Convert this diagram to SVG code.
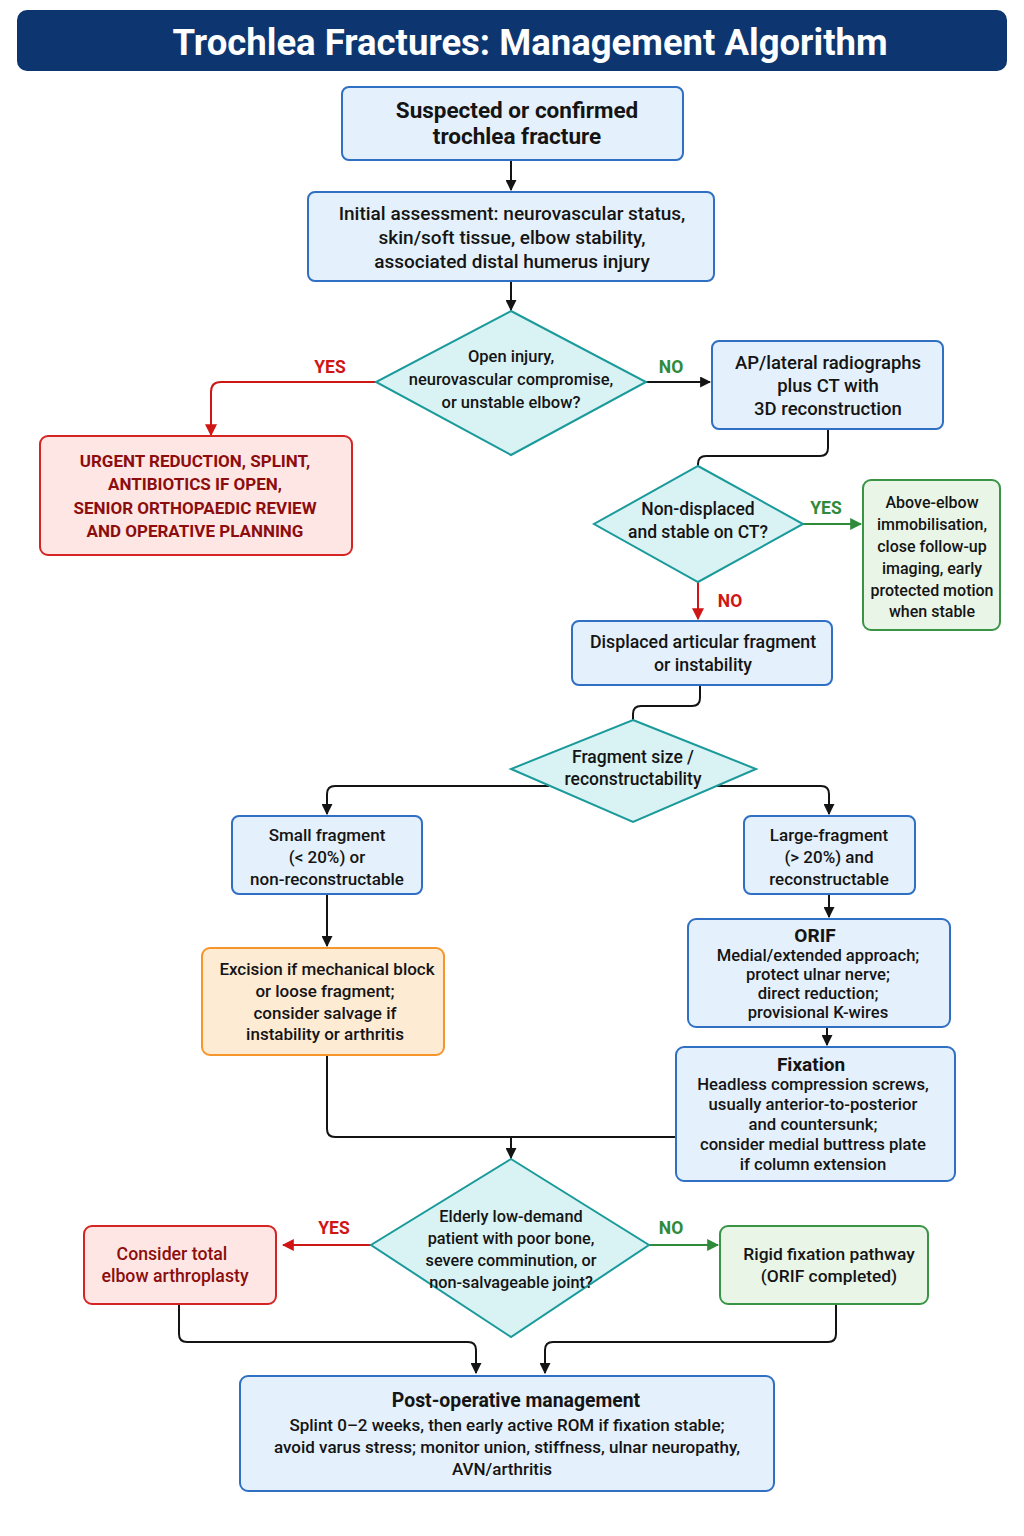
<svg xmlns="http://www.w3.org/2000/svg" width="1024" height="1536" viewBox="0 0 1024 1536">
<defs>
<style>
text{font-family:Roboto,"Liberation Sans",sans-serif;text-anchor:middle;fill:#141414;font-weight:500}
.t{font-size:18.5px}
.s{font-size:17px}
.d{font-size:16.5px}
.h{font-size:19.5px;font-weight:700}
.box{fill:#e4f0fb;stroke:#2f6fc4;stroke-width:2}
.dia{fill:#d9f2f4;stroke:#1a9a9a;stroke-width:2}
.red{fill:#fde6e4;stroke:#d52424;stroke-width:2}
.grn{fill:#e9f5e7;stroke:#3a9446;stroke-width:2}
.org{fill:#fdebd4;stroke:#f5952a;stroke-width:2}
.rt{fill:#8c0d0d}
.c{fill:none;stroke:#141414;stroke-width:2}
.cr{fill:none;stroke:#d01515;stroke-width:2}
.cg{fill:none;stroke:#2f8a3a;stroke-width:2}
.ly{font-size:17.5px;font-weight:700;fill:#d01515}
.lg{font-size:17.5px;font-weight:700;fill:#2f8a3a}
</style>
<marker id="ak" viewBox="0 0 10 10" refX="9" refY="5" markerWidth="11" markerHeight="11" orient="auto" markerUnits="userSpaceOnUse"><path d="M0,0L10,5L0,10z" fill="#141414"/></marker>
<marker id="ar" viewBox="0 0 10 10" refX="9" refY="5" markerWidth="12" markerHeight="12" orient="auto" markerUnits="userSpaceOnUse"><path d="M0,0L10,5L0,10z" fill="#d01515"/></marker>
<marker id="ag" viewBox="0 0 10 10" refX="9" refY="5" markerWidth="12" markerHeight="12" orient="auto" markerUnits="userSpaceOnUse"><path d="M0,0L10,5L0,10z" fill="#2f8a3a"/></marker>
</defs>
<rect width="1024" height="1536" fill="#ffffff"/>

<g id="title">
<rect x="17" y="10" width="990" height="61" rx="10" fill="#0d3670"/>
<text x="530" y="55" style="font-size:36.5px;font-weight:700;fill:#ffffff">Trochlea Fractures: Management Algorithm</text>
</g>

<g id="connectors">
<path class="c" d="M511,160V190" marker-end="url(#ak)"/>
<path class="c" d="M511,281V310" marker-end="url(#ak)"/>
<path class="cr" d="M376,382H221Q211,382 211,392V435" marker-end="url(#ar)"/>
<path class="c" d="M646,382H710" marker-end="url(#ak)"/>
<path class="c" d="M828,429V448Q828,456 820,456H706Q698,456 698,464V466"/>
<path class="cg" d="M803,524H861" marker-end="url(#ag)"/>
<path class="cr" d="M698,582V619" marker-end="url(#ar)"/>
<path class="c" d="M700,685V698Q700,706 692,706H641Q633,706 633,714V720"/>
<path class="c" d="M549,786H335Q327,786 327,794V814" marker-end="url(#ak)"/>
<path class="c" d="M716,786H821Q829,786 829,794V814" marker-end="url(#ak)"/>
<path class="c" d="M327,894V946" marker-end="url(#ak)"/>
<path class="c" d="M829,894V917" marker-end="url(#ak)"/>
<path class="c" d="M827,1027V1045" marker-end="url(#ak)"/>
<path class="c" d="M327,1055V1129Q327,1137 335,1137H676"/>
<path class="c" d="M511,1137V1158" marker-end="url(#ak)"/>
<path class="cr" d="M371,1245H283" marker-end="url(#ar)"/>
<path class="cg" d="M649,1245H718" marker-end="url(#ag)"/>
<path class="c" d="M179,1304V1334Q179,1342 187,1342H468Q476,1342 476,1350V1373" marker-end="url(#ak)"/>
<path class="c" d="M836,1304V1334Q836,1342 828,1342H553Q545,1342 545,1350V1373" marker-end="url(#ak)"/>
<text class="ly" x="330" y="373">YES</text>
<text class="lg" x="671" y="373">NO</text>
<text class="lg" x="826" y="514">YES</text>
<text class="ly" x="730" y="607">NO</text>
<text class="ly" x="334" y="1234">YES</text>
<text class="lg" x="671" y="1234">NO</text>
</g>

<g id="n1">
<rect class="box" x="342" y="87" width="341" height="73" rx="7"/>
<text x="517" y="118" style="font-size:22.5px;font-weight:700">Suspected or confirmed</text>
<text x="517" y="144" style="font-size:22.5px;font-weight:700">trochlea fracture</text>
</g>

<g id="n2">
<rect class="box" x="308" y="192" width="406" height="89" rx="7"/>
<text x="512" y="220" style="font-size:19px">Initial assessment: neurovascular status,</text>
<text x="512" y="244" style="font-size:19px">skin/soft tissue, elbow stability,</text>
<text x="512" y="268" style="font-size:19px">associated distal humerus injury</text>
</g>

<g id="d1">
<polygon class="dia" points="511,311 646,382 511,455 376,382"/>
<text class="d" x="511" y="362">Open injury,</text>
<text class="d" x="511" y="385">neurovascular compromise,</text>
<text class="d" x="511" y="408">or unstable elbow?</text>
</g>

<g id="urgent">
<rect class="red" x="40" y="436" width="312" height="119" rx="8"/>
<text class="rt" x="195" y="467" style="font-size:17px;font-weight:700">URGENT REDUCTION, SPLINT,</text>
<text class="rt" x="195" y="490" style="font-size:17px;font-weight:700">ANTIBIOTICS IF OPEN,</text>
<text class="rt" x="195" y="514" style="font-size:17px;font-weight:700">SENIOR ORTHOPAEDIC REVIEW</text>
<text class="rt" x="195" y="537" style="font-size:17px;font-weight:700">AND OPERATIVE PLANNING</text>
</g>

<g id="imaging">
<rect class="box" x="712" y="341" width="231" height="88" rx="7"/>
<text class="t" x="828" y="369">AP/lateral radiographs</text>
<text class="t" x="828" y="392">plus CT with</text>
<text class="t" x="828" y="415">3D reconstruction</text>
</g>

<g id="d2">
<polygon class="dia" points="698,466 803,524 698,582 594,524"/>
<text x="698" y="515" style="font-size:17.5px">Non-displaced</text>
<text x="698" y="538" style="font-size:17.5px">and stable on CT?</text>
</g>

<g id="conservative">
<rect class="grn" x="863" y="480" width="137" height="150" rx="8"/>
<text x="932" y="508" style="font-size:16px">Above-elbow</text>
<text x="932" y="530" style="font-size:16px">immobilisation,</text>
<text x="932" y="552" style="font-size:16px">close follow-up</text>
<text x="932" y="574" style="font-size:16px">imaging, early</text>
<text x="932" y="596" style="font-size:16px">protected motion</text>
<text x="932" y="617" style="font-size:16px">when stable</text>
</g>

<g id="displaced">
<rect class="box" x="572" y="621" width="260" height="64" rx="7"/>
<text x="703" y="648" style="font-size:17.8px">Displaced articular fragment</text>
<text x="703" y="671" style="font-size:17.8px">or instability</text>
</g>

<g id="d3">
<polygon class="dia" points="633,720 756,769 633,822 511,769"/>
<text x="633" y="763" style="font-size:17.5px">Fragment size /</text>
<text x="633" y="785" style="font-size:17.5px">reconstructability</text>
</g>

<g id="small">
<rect class="box" x="232" y="816" width="190" height="78" rx="7"/>
<text class="s" x="327" y="841">Small fragment</text>
<text class="s" x="327" y="863">(&lt; 20%) or</text>
<text class="s" x="327" y="885">non-reconstructable</text>
</g>

<g id="large">
<rect class="box" x="744" y="816" width="171" height="78" rx="7"/>
<text class="s" x="829" y="841">Large-fragment</text>
<text class="s" x="829" y="863">(&gt; 20%) and</text>
<text class="s" x="829" y="885">reconstructable</text>
</g>

<g id="excision">
<rect class="org" x="202" y="948" width="242" height="107" rx="8"/>
<text class="s" x="327" y="975">Excision if mechanical block</text>
<text class="s" x="325" y="997">or loose fragment;</text>
<text class="s" x="325" y="1019">consider salvage if</text>
<text class="s" x="325" y="1040">instability or arthritis</text>
</g>

<g id="orif">
<rect class="box" x="688" y="919" width="262" height="108" rx="8"/>
<text x="815" y="942" style="font-size:19px;font-weight:700">ORIF</text>
<text x="818" y="961" style="font-size:16.6px">Medial/extended approach;</text>
<text x="818" y="980" style="font-size:16.6px">protect ulnar nerve;</text>
<text x="818" y="999" style="font-size:16.6px">direct reduction;</text>
<text x="818" y="1018" style="font-size:16.6px">provisional K-wires</text>
</g>

<g id="fixation">
<rect class="box" x="676" y="1047" width="279" height="134" rx="8"/>
<text x="811" y="1071" style="font-size:19px;font-weight:700">Fixation</text>
<text x="813" y="1090" style="font-size:16.7px">Headless compression screws,</text>
<text x="813" y="1110" style="font-size:16.7px">usually anterior-to-posterior</text>
<text x="813" y="1130" style="font-size:16.7px">and countersunk;</text>
<text x="813" y="1150" style="font-size:16.7px">consider medial buttress plate</text>
<text x="813" y="1170" style="font-size:16.7px">if column extension</text>
</g>

<g id="d4">
<polygon class="dia" points="511,1159 649,1245 511,1337 371,1245"/>
<text x="511" y="1222" style="font-size:16.3px">Elderly low-demand</text>
<text x="511" y="1244" style="font-size:16.3px">patient with poor bone,</text>
<text x="511" y="1266" style="font-size:16.3px">severe comminution, or</text>
<text x="511" y="1288" style="font-size:16.3px">non-salvageable joint?</text>
</g>

<g id="tea">
<rect class="red" x="84" y="1226" width="192" height="78" rx="8"/>
<text class="rt" x="172" y="1260" style="font-size:17.7px">Consider total</text>
<text class="rt" x="175" y="1282" style="font-size:17.7px">elbow arthroplasty</text>
</g>

<g id="rigid">
<rect class="grn" x="720" y="1226" width="208" height="78" rx="8"/>
<text x="829" y="1260" style="font-size:17.4px">Rigid fixation pathway</text>
<text x="829" y="1282" style="font-size:17.4px">(ORIF completed)</text>
</g>

<g id="postop">
<rect class="box" x="240" y="1376" width="534" height="115" rx="8"/>
<text x="516" y="1407" style="font-size:19.4px;font-weight:700">Post-operative management</text>
<text x="507" y="1431" style="font-size:17px">Splint 0–2 weeks, then early active ROM if fixation stable;</text>
<text x="507" y="1453" style="font-size:17px">avoid varus stress; monitor union, stiffness, ulnar neuropathy,</text>
<text x="502" y="1475" style="font-size:17px">AVN/arthritis</text>
</g>
</svg>
